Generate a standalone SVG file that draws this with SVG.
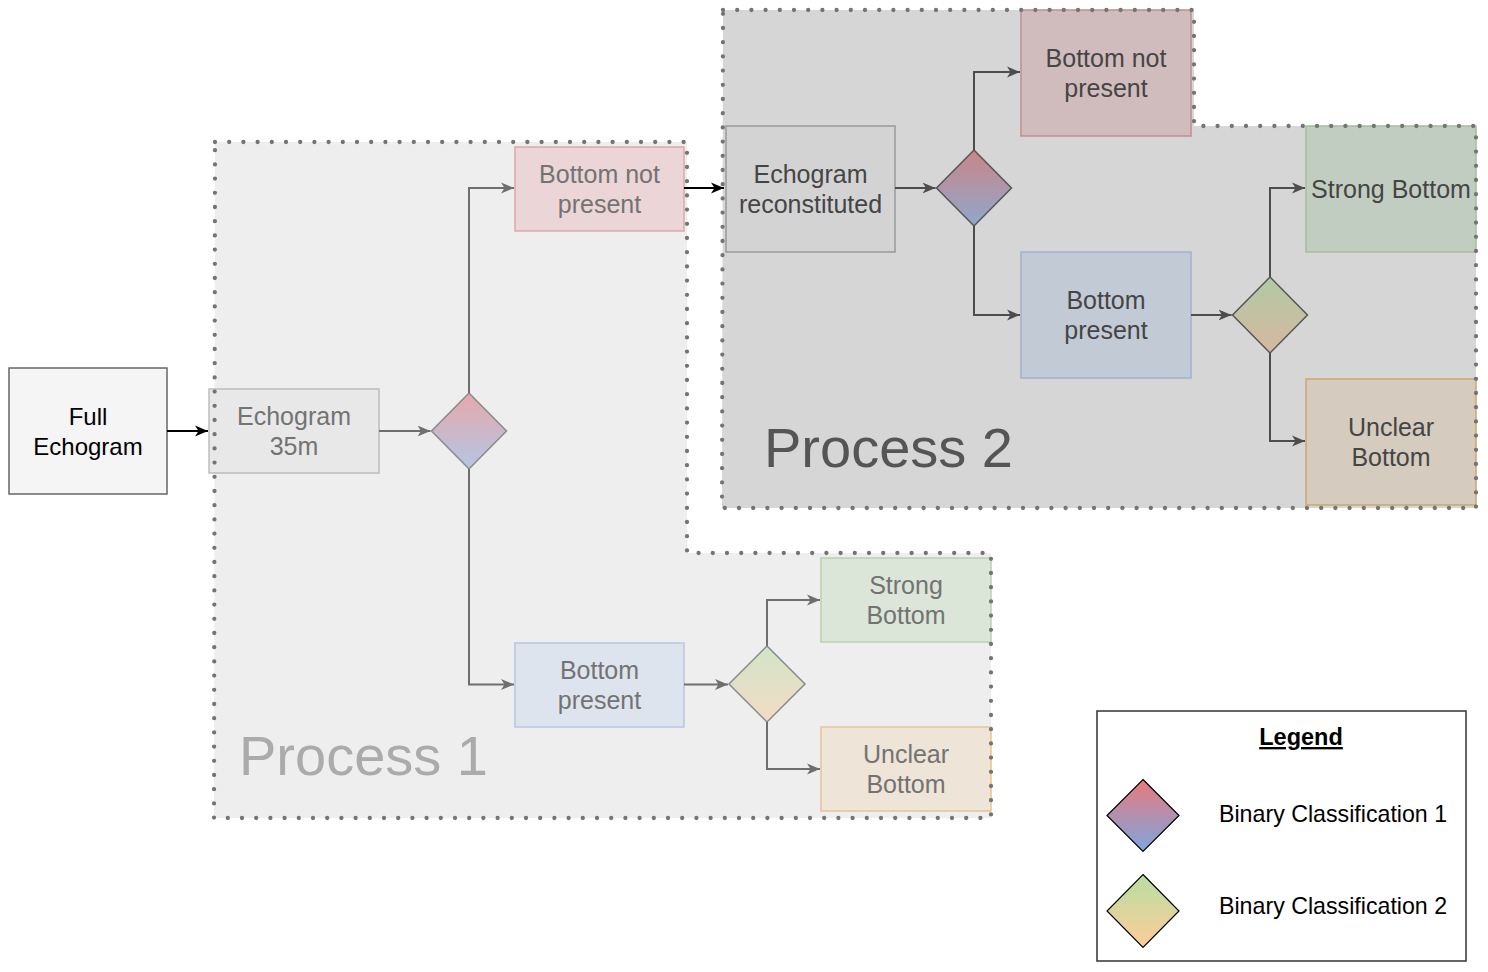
<svg xmlns="http://www.w3.org/2000/svg" width="1488" height="972" viewBox="0 0 1488 972">
<style>
text{font-family:"Liberation Sans",Arial,Helvetica,sans-serif;text-anchor:middle}
.t1{font-size:25px;fill:#737373}
.t2{font-size:25px;fill:#454545}
.dots{fill:none;stroke:#747474;stroke-width:4.3;stroke-linecap:round;stroke-dasharray:0 14.2}
.c1{fill:none;stroke:#6e6e6e;stroke-width:2}
.c2{fill:none;stroke:#4d4d4d;stroke-width:2}
.c0{fill:none;stroke:#000;stroke-width:2}
.big{font-size:56px;text-anchor:start}
</style>
<defs>
<marker id="a0" markerUnits="userSpaceOnUse" viewBox="0 0 14 12" markerWidth="14" markerHeight="12" refX="13" refY="6" orient="auto"><path d="M0,0.5 L13,6 L0,11.5 L3.5,6 Z" fill="#000"/></marker>
<marker id="a1" markerUnits="userSpaceOnUse" viewBox="0 0 14 12" markerWidth="14" markerHeight="12" refX="13" refY="6" orient="auto"><path d="M0,0.5 L13,6 L0,11.5 L3.5,6 Z" fill="#6e6e6e"/></marker>
<marker id="a2" markerUnits="userSpaceOnUse" viewBox="0 0 14 12" markerWidth="14" markerHeight="12" refX="13" refY="6" orient="auto"><path d="M0,0.5 L13,6 L0,11.5 L3.5,6 Z" fill="#4d4d4d"/></marker>
<linearGradient id="g1" x1="0" y1="0" x2="0" y2="1"><stop offset="0" stop-color="#e87a7c"/><stop offset="1" stop-color="#7ea6de"/></linearGradient>
<linearGradient id="g2" x1="0" y1="0" x2="0" y2="1"><stop offset="0" stop-color="#b6dfa2"/><stop offset="1" stop-color="#ffcc99"/></linearGradient>
<linearGradient id="p1g1" x1="0" y1="0" x2="0" y2="1"><stop offset="0" stop-color="#e6a8aa"/><stop offset="1" stop-color="#b3c6e4"/></linearGradient>
<linearGradient id="p1g2" x1="0" y1="0" x2="0" y2="1"><stop offset="0" stop-color="#d2e4c8"/><stop offset="1" stop-color="#f1dcc4"/></linearGradient>
<linearGradient id="p2g1" x1="0" y1="0" x2="0" y2="1"><stop offset="0" stop-color="#cb8587"/><stop offset="1" stop-color="#8ea8cb"/></linearGradient>
<linearGradient id="p2g2" x1="0" y1="0" x2="0" y2="1"><stop offset="0" stop-color="#b1c9a5"/><stop offset="1" stop-color="#d6b8a0"/></linearGradient>
</defs>

<g id="process1-area">
<path d="M215,142 H687 V553 H991 V818 H214 Z" fill="#eeeeee"/>
<text class="big" x="239" y="775" fill="#ababab">Process 1</text>
</g>
<g id="process2-area">
<path d="M723,10 H1194 V126 H1476 V508 H722 Z" fill="#d5d6d5"/>
<text class="big" x="764" y="467" fill="#555555">Process 2</text>
</g>

<g id="full-echogram">
<rect x="9" y="368" width="158" height="126" fill="#f5f5f5" stroke="#666" stroke-width="1.5"/>
<text x="88" y="425" font-size="24" fill="#000">Full</text>
<text x="88" y="455" font-size="24" fill="#000">Echogram</text>
</g>

<g id="p1-echogram35">
<rect x="209" y="389" width="170" height="84" fill="#e8e8e8" stroke="#bdbdbd" stroke-width="1.5"/>
<text class="t1" x="294" y="425">Echogram</text>
<text class="t1" x="294" y="455">35m</text>
</g>
<g id="p1-diamond1"><path d="M469,393 L506.5,431 L469,469 L431.5,431 Z" fill="url(#p1g1)" stroke="#8a8a8a" stroke-width="1.5"/></g>
<g id="p1-notpresent">
<rect x="515" y="147" width="169" height="84" fill="#ebd5d6" stroke="#dba8aa" stroke-width="1.5"/>
<text class="t1" x="599.5" y="182.5">Bottom not</text>
<text class="t1" x="599.5" y="212.5">present</text>
</g>
<g id="p1-present">
<rect x="515" y="643" width="169" height="84" fill="#dde4ee" stroke="#b5c6e2" stroke-width="1.5"/>
<text class="t1" x="599.5" y="678.5">Bottom</text>
<text class="t1" x="599.5" y="708.5">present</text>
</g>
<g id="p1-diamond2"><path d="M767,646 L805,684 L767,722 L729,684 Z" fill="url(#p1g2)" stroke="#8a8a8a" stroke-width="1.5"/></g>
<g id="p1-strong">
<rect x="821" y="558" width="170" height="84" fill="#dbe6d9" stroke="#b9d2b0" stroke-width="1.5"/>
<text class="t1" x="906" y="594">Strong</text>
<text class="t1" x="906" y="624">Bottom</text>
</g>
<g id="p1-unclear">
<rect x="821" y="727" width="170" height="84" fill="#efe4d8" stroke="#e4c690" stroke-width="1.5"/>
<text class="t1" x="906" y="763">Unclear</text>
<text class="t1" x="906" y="793">Bottom</text>
</g>

<g id="p2-echogram-reconstituted">
<rect x="726" y="126" width="169" height="126" fill="#d3d3d3" stroke="#9a9a9a" stroke-width="1.5"/>
<text class="t2" x="810.5" y="183">Echogram</text>
<text class="t2" x="810.5" y="213">reconstituted</text>
</g>
<g id="p2-diamond1"><path d="M974,150 L1011.5,188 L974,226 L936.5,188 Z" fill="url(#p2g1)" stroke="#555" stroke-width="1.5"/></g>
<g id="p2-notpresent">
<rect x="1021" y="10" width="170" height="126" fill="#d1bcbd" stroke="#c08f92" stroke-width="1.5"/>
<text class="t2" x="1106" y="67">Bottom not</text>
<text class="t2" x="1106" y="97">present</text>
</g>
<g id="p2-present">
<rect x="1021" y="252" width="170" height="126" fill="#c2cad5" stroke="#9fb3cf" stroke-width="1.5"/>
<text class="t2" x="1106" y="309">Bottom</text>
<text class="t2" x="1106" y="339">present</text>
</g>
<g id="p2-diamond2"><path d="M1270,277 L1307.5,315 L1270,353 L1232.5,315 Z" fill="url(#p2g2)" stroke="#555" stroke-width="1.5"/></g>
<g id="p2-strong">
<rect x="1306" y="126" width="170" height="126" fill="#c2cdc2" stroke="#a5bd9b" stroke-width="1.5"/>
<text class="t2" x="1391" y="198">Strong Bottom</text>
</g>
<g id="p2-unclear">
<rect x="1306" y="379" width="170" height="126" fill="#d5cbbf" stroke="#c9a96a" stroke-width="1.5"/>
<text class="t2" x="1391" y="436">Unclear</text>
<text class="t2" x="1391" y="466">Bottom</text>
</g>

<g id="connectors">
<path class="c0" d="M167,431 H208" marker-end="url(#a0)"/>
<path class="c0" d="M684,188 H724" marker-end="url(#a0)"/>
<path class="c1" d="M379,431 H430.5" marker-end="url(#a1)"/>
<path class="c1" d="M469,393 V188 H514" marker-end="url(#a1)"/>
<path class="c1" d="M469,469 V684.5 H514" marker-end="url(#a1)"/>
<path class="c1" d="M684,684.5 H728" marker-end="url(#a1)"/>
<path class="c1" d="M767,646 V600 H820" marker-end="url(#a1)"/>
<path class="c1" d="M767,722 V769 H820" marker-end="url(#a1)"/>
<path class="c2" d="M895,188 H935.5" marker-end="url(#a2)"/>
<path class="c2" d="M974,150 V72 H1020" marker-end="url(#a2)"/>
<path class="c2" d="M974,226 V315 H1020" marker-end="url(#a2)"/>
<path class="c2" d="M1191,315 H1231.5" marker-end="url(#a2)"/>
<path class="c2" d="M1270,277 V188 H1305" marker-end="url(#a2)"/>
<path class="c2" d="M1270,353 V441 H1305" marker-end="url(#a2)"/>
</g>

<g id="process-outlines">
<path class="dots" d="M215,142 H687 V553 H991 V818 H214 Z"/>
<path class="dots" d="M723,10 H1194 V126 H1476 V508 H722 Z"/>
</g>

<g id="legend">
<rect x="1097" y="711" width="369" height="250" fill="#fff" stroke="#333" stroke-width="1.5"/>
<text x="1301" y="745" font-size="23.5" font-weight="bold" text-decoration="underline" fill="#000">Legend</text>
<path d="M1143,779.5 L1179,815.5 L1143,851.5 L1107,815.5 Z" fill="url(#g1)" stroke="#000" stroke-width="1.2"/>
<text x="1219" y="822" font-size="23.2" fill="#000" style="text-anchor:start">Binary Classification 1</text>
<path d="M1143,874.5 L1179,911 L1143,947.5 L1107,911 Z" fill="url(#g2)" stroke="#000" stroke-width="1.2"/>
<text x="1219" y="914" font-size="23.2" fill="#000" style="text-anchor:start">Binary Classification 2</text>
</g>
</svg>
